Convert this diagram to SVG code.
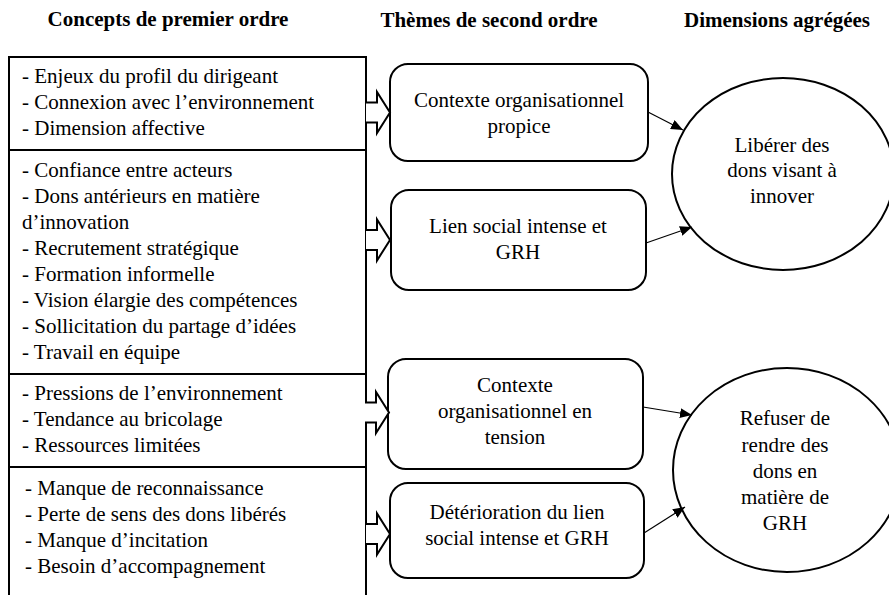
<svg xmlns="http://www.w3.org/2000/svg" width="889" height="595" viewBox="0 0 889 595" font-family="'Liberation Serif', 'Times New Roman', serif" font-size="21">
<style>
.h{font-weight:bold}
.m{text-anchor:middle}
.box{fill:#fff;stroke:#000;stroke-width:2}
.blk{fill:#fff;stroke:#000;stroke-width:2;stroke-linejoin:miter}
.con{fill:none;stroke:#000;stroke-width:1.2}
</style>
<defs>
<marker id="ah" viewBox="0 0 12 10" refX="12" refY="5" markerWidth="12" markerHeight="10" markerUnits="userSpaceOnUse" orient="auto">
<path d="M0,0 L12,5 L0,10 Z" fill="#000"/>
</marker>
<path id="blk" d="M0,-10 H11 V-20.5 L24,0 L11,20.5 V10 H0"/>
</defs>
<rect width="889" height="595" fill="#fff"/>
<g id="headers">
<text class="h m" x="168" y="26">Concepts de premier ordre</text>
<text class="h m" x="489" y="27">Thèmes de second ordre</text>
<text class="h m" x="777" y="27">Dimensions agrégées</text>
</g>
<g id="concepts">
<path class="box" d="M9,600 V57 H366 V600" fill="none"/>
<line x1="9" y1="150" x2="366" y2="150" stroke="#000" stroke-width="2"/>
<line x1="9" y1="374" x2="366" y2="374" stroke="#000" stroke-width="2"/>
<line x1="9" y1="467" x2="366" y2="467" stroke="#000" stroke-width="2"/>
<g id="c1">
<text x="22" y="83">- Enjeux du profil du dirigeant</text>
<text x="22" y="109">- Connexion avec l’environnement</text>
<text x="22" y="135">- Dimension affective</text>
</g>
<g id="c2">
<text x="22" y="177">- Confiance entre acteurs</text>
<text x="22" y="203">- Dons antérieurs en matière</text>
<text x="22" y="229">d’innovation</text>
<text x="22" y="255">- Recrutement stratégique</text>
<text x="22" y="281">- Formation informelle</text>
<text x="22" y="307">- Vision élargie des compétences</text>
<text x="22" y="333">- Sollicitation du partage d’idées</text>
<text x="22" y="359">- Travail en équipe</text>
</g>
<g id="c3">
<text x="22" y="400">- Pressions de l’environnement</text>
<text x="22" y="426">- Tendance au bricolage</text>
<text x="22" y="452">- Ressources limitées</text>
</g>
<g id="c4">
<text x="25" y="495">- Manque de reconnaissance</text>
<text x="25" y="521">- Perte de sens des dons libérés</text>
<text x="25" y="547">- Manque d’incitation</text>
<text x="25" y="573">- Besoin d’accompagnement</text>
</g>
</g>
<g id="t1">
<rect class="box" x="390" y="64" width="258" height="97" rx="18"/>
<text class="m" x="519" y="107">Contexte organisationnel</text>
<text class="m" x="519" y="133">propice</text>
</g>
<g id="t2">
<rect class="box" x="391" y="190" width="255" height="100" rx="18"/>
<text class="m" x="518" y="233">Lien social intense et</text>
<text class="m" x="518" y="259">GRH</text>
</g>
<g id="t3">
<rect class="box" x="388" y="359" width="255" height="110" rx="18"/>
<text class="m" x="515" y="392">Contexte</text>
<text class="m" x="515" y="418">organisationnel en</text>
<text class="m" x="515" y="444">tension</text>
</g>
<g id="t4">
<rect class="box" x="390" y="483" width="254" height="95" rx="18"/>
<text class="m" x="517" y="519">Détérioration du lien</text>
<text class="m" x="517" y="545">social intense et GRH</text>
</g>
<g id="d1">
<ellipse class="box" cx="783" cy="174" rx="111" ry="96"/>
<text class="m" x="782" y="152">Libérer des</text>
<text class="m" x="782" y="177">dons visant à</text>
<text class="m" x="782" y="203">innover</text>
</g>
<g id="d2">
<ellipse class="box" cx="787" cy="470" rx="114" ry="102"/>
<text class="m" x="785" y="425">Refuser de</text>
<text class="m" x="785" y="452">rendre des</text>
<text class="m" x="785" y="478">dons en</text>
<text class="m" x="785" y="504">matière de</text>
<text class="m" x="785" y="530">GRH</text>
</g>
<g id="connectors">
<use href="#blk" class="blk" x="366" y="112.5"/>
<use href="#blk" class="blk" x="366" y="240"/>
<use href="#blk" class="blk" x="365" y="412.5"/>
<use href="#blk" class="blk" x="366" y="534"/>
<line class="con" x1="648" y1="112" x2="683" y2="130" marker-end="url(#ah)"/>
<line class="con" x1="646" y1="243" x2="692" y2="227" marker-end="url(#ah)"/>
<line class="con" x1="643" y1="407" x2="692" y2="415" marker-end="url(#ah)"/>
<line class="con" x1="644" y1="533" x2="685" y2="507" marker-end="url(#ah)"/>
</g>
</svg>
